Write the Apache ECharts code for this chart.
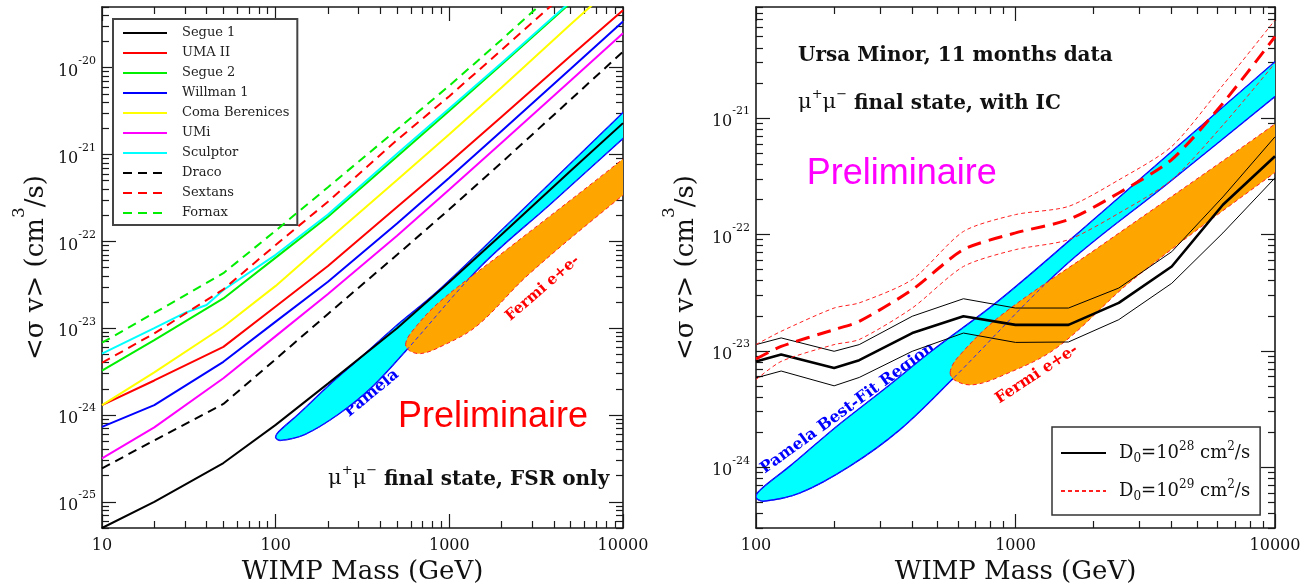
<!DOCTYPE html>
<html><head><meta charset="utf-8">
<script src="https://cdn.jsdelivr.net/npm/echarts@6/dist/echarts.min.js"></script>
<style>html,body{margin:0;padding:0;background:#fff}#c{width:1315px;height:586px}</style>
</head><body><div id="c"></div>
<script>
// ---------------- data: left panel (FSR only) ----------------
const massL = [10, 20, 50, 100, 200, 500, 1000, 2000, 5000, 10000];
const segue1   = [5.0e-26, 1.0e-25, 2.8e-25, 7.7e-25, 2.3e-24, 1.0e-23, 3.4e-23, 1.2e-22, 6.5e-22, 2.3e-21];
const uma2     = [1.3e-24, 2.5e-24, 6.1e-24, 1.78e-23, 5.2e-23, 2.48e-22, 8.1e-22, 2.73e-21, 1.37e-20, 4.6e-20];
const segue2   = [3.24e-24, 7.3e-24, 2.2e-23, 6.5e-23, 1.92e-22, 9.5e-22, 3.19e-21, 1.09e-20, 5.6e-20, 1.9e-19];
const willman1 = [7.3e-25, 1.3e-24, 4.1e-24, 1.19e-23, 3.43e-23, 1.61e-22, 5.4e-22, 1.87e-21, 9.7e-21, 3.4e-20];
const comaBer  = [1.3e-24, 3.1e-24, 1.04e-23, 3.07e-23, 1.04e-22, 5.1e-22, 1.71e-21, 5.9e-21, 3.16e-20, 1.1e-19];
const umi      = [3.17e-25, 7.2e-25, 2.65e-24, 8.1e-24, 2.47e-23, 1.16e-22, 3.95e-22, 1.37e-21, 7.1e-21, 2.49e-20];
const draco    = [2.43e-25, 5.1e-25, 1.34e-24, 4.4e-24, 1.46e-23, 7.0e-23, 2.34e-22, 8.1e-22, 4.3e-21, 1.53e-20];
const sextans  = [4.0e-24, 8.7e-24, 2.8e-23, 9.1e-23, 2.86e-22, 1.47e-21, 4.7e-21, 1.6e-20, 8.2e-20, 3.0e-19];
const fornax   = [6.8e-24, 1.5e-23, 4.3e-23, 1.33e-22, 4.2e-22, 1.94e-21, 6.2e-21, 2.1e-20, 1.1e-19, 3.9e-19];
const massSculptor = [10, 20, 30, 40, 50, 100, 200, 500, 1000, 2000, 5000, 10000];
const sculptor = [5.1e-24, 1.0e-23, 1.5e-23, 1.85e-23, 2.75e-23, 7.0e-23, 2.04e-22, 1.02e-21, 3.39e-21, 1.13e-20, 5.8e-20, 2.0e-19];

// ---------------- data: right panel (Ursa Minor, with IC) ----------------
const massR = [100, 125, 200, 250, 400, 630, 1000, 1600, 2500, 4000, 6300, 10000];
const d28    = [8.1e-24, 9.3e-24, 7.1e-24, 8.3e-24, 1.42e-23, 1.98e-23, 1.67e-23, 1.67e-23, 2.58e-23, 5.3e-23, 1.8e-22, 4.7e-22];
const d28hi  = [1.13e-23, 1.29e-23, 9.9e-24, 1.13e-23, 1.98e-23, 2.8e-23, 2.33e-23, 2.33e-23, 3.46e-23, 7.1e-23, 2.1e-22, 6.9e-22];
const d28lo  = [5.85e-24, 6.7e-24, 5.0e-24, 5.9e-24, 9.9e-24, 1.42e-23, 1.18e-23, 1.19e-23, 1.85e-23, 3.8e-23, 1.03e-22, 3.06e-22];
const d29    = [8.5e-24, 1.09e-23, 1.52e-23, 1.79e-23, 3.35e-23, 7.4e-23, 1.03e-22, 1.34e-22, 2.27e-22, 4.4e-22, 1.34e-21, 5.0e-21];
const d29hi  = [1.13e-23, 1.47e-23, 2.33e-23, 2.58e-23, 4.1e-23, 1.06e-22, 1.48e-22, 1.74e-22, 2.94e-22, 5.7e-22, 1.92e-21, 6.95e-21];
const d29lo  = [5.65e-24, 8.1e-24, 1.13e-23, 1.25e-23, 2.33e-23, 5.3e-23, 7.4e-23, 9.0e-23, 1.52e-22, 2.94e-22, 8.7e-22, 2.96e-21];

// ---------------- regions (outline points: mass, <sigma v>) ----------------
const pamelaMass  = [100, 104, 135, 205, 309, 482, 871, 2116, 10000, 16000, 16000, 10000, 3828, 1524, 567, 359, 230, 148, 107];
const pamelaSigma = [5.5e-25, 6.4e-25, 1.02e-24, 2.25e-24, 4.6e-24, 1.02e-23, 2.75e-23, 1.5e-22, 3.05e-21, 7.5e-21, 3.6e-21, 1.53e-21, 2.7e-22, 5.2e-23, 5.6e-24, 2.1e-24, 1.02e-24, 6.0e-25, 5.1e-25];
const fermiMass   = [560, 600, 871, 2116, 10000, 14000, 14000, 10000, 2840, 1432, 871, 684, 590];
const fermiSigma  = [6.5e-24, 8.8e-24, 1.98e-23, 7.9e-23, 8.9e-22, 1.6e-21, 5.5e-22, 3.4e-22, 4.1e-23, 1.05e-23, 6.0e-24, 5.1e-24, 5.5e-24];

// ---------------- axis ranges and ticks (decade exponents) ----------------
const leftXRange  = [10, 10000];
const leftYRange  = [5e-26, 5e-20];
const rightXRange = [100, 10000];
const rightYRange = [3e-25, 9e-21];
const leftXExp  = [1, 2, 3, 4];
const leftYExp  = [-26, -25, -24, -23, -22, -21, -20];
const rightXExp = [2, 3, 4];
const rightYExp = [-25, -24, -23, -22, -21];
const minorMult = [2, 3, 4, 5, 6, 7, 8, 9];

const SERIF = 'DejaVu Serif';
const SANS = 'Liberation Sans';
const AX = '#1a1a1a';
const lg = Math.log10;

function inRange(vals, r) { return vals.filter(v => v >= lg(r[0]) - 1e-9 && v <= lg(r[1]) + 1e-9); }
function majorTicks(exps, r) { return inRange(exps, r); }
function minorTicks(exps, r) {
  const out = [];
  exps.forEach(e => minorMult.forEach(k => out.push(e + lg(k))));
  return inRange(out, r);
}

const xLabel = vals => ({show: true, customValues: vals, margin: 10, fontFamily: SERIF, fontSize: 16, color: '#111',
  formatter: v => String(Math.round(Math.pow(10, v)))});
const yLabel = vals => ({show: true, customValues: vals, margin: 6,
  formatter: v => '{b|10}{s|' + Math.round(v) + '}',
  rich: {b: {fontFamily: SERIF, fontSize: 16, color: '#111', lineHeight: 24, verticalAlign: 'bottom'},
         s: {fontFamily: SERIF, fontSize: 11, color: '#111', lineHeight: 12, verticalAlign: 'top'}}});
const xName = () => ({name: 'WIMP Mass (GeV)', nameLocation: 'middle', nameGap: 26,
  nameTextStyle: {fontFamily: SERIF, fontSize: 26, color: '#111'}});
const yName = gap => ({name: '{n|<σ v> (cm}{p|3}{n|/s)}', nameLocation: 'middle', nameGap: gap,
  nameTextStyle: {rich: {n: {fontFamily: SERIF, fontSize: 26, color: '#111', lineHeight: 38, verticalAlign: 'bottom'},
                         p: {fontFamily: SERIF, fontSize: 17, color: '#111', lineHeight: 16, verticalAlign: 'top'}}}});

function axisSet(grid, dim, r, majors, minors, label, nameOpt) {
  const base = (lineShow) => ({
    type: 'value', gridIndex: grid, min: lg(r[0]), max: lg(r[1]), scale: true,
    splitLine: {show: false}, silent: true,
    axisLine: {show: lineShow, onZero: false, lineStyle: {color: AX, width: 1.6}}
  });
  const tick = (vals, len) => ({show: true, inside: true, length: len, customValues: vals, lineStyle: {color: AX, width: 1.2}});
  const pos = dim === 'x' ? ['bottom', 'top'] : ['left', 'right'];
  return [
    Object.assign(base(true), {position: pos[0], axisTick: tick(majors, 14), axisLabel: label}, nameOpt),
    Object.assign(base(false), {position: pos[0], axisTick: tick(minors, 7), axisLabel: {show: false}}),
    Object.assign(base(true), {position: pos[1], axisTick: tick(majors, 14), axisLabel: {show: false}}),
    Object.assign(base(false), {position: pos[1], axisTick: tick(minors, 7), axisLabel: {show: false}})
  ];
}

const xAxes = [].concat(
  axisSet(0, 'x', leftXRange, majorTicks(leftXExp, leftXRange), minorTicks(leftXExp, leftXRange), xLabel(majorTicks(leftXExp, leftXRange)), xName()),
  axisSet(1, 'x', rightXRange, majorTicks(rightXExp, rightXRange), minorTicks(rightXExp, rightXRange), xLabel(majorTicks(rightXExp, rightXRange)), xName())
);
const yAxes = [].concat(
  axisSet(0, 'y', leftYRange, majorTicks(leftYExp, leftYRange), minorTicks(leftYExp, leftYRange), yLabel(majorTicks(leftYExp, leftYRange)), yName(53)),
  axisSet(1, 'y', rightYRange, majorTicks(rightYExp, rightYRange), minorTicks(rightYExp, rightYRange), yLabel(majorTicks(rightYExp, rightYRange)), yName(57))
);

// data go through log10 so that the value axes act as logarithmic axes
function pairs(xs, ys) { return xs.map((x, i) => [lg(x), lg(ys[i])]); }

function lineSeries(name, grid, xs, ys, color, width, dash, smooth, z) {
  return {
    type: 'line', name: name, xAxisIndex: grid * 4, yAxisIndex: grid * 4,
    data: pairs(xs, ys), symbol: 'none', showSymbol: false, clip: true, smooth: smooth || false,
    lineStyle: {color: color, width: width, type: dash || 'solid'}, itemStyle: {color: color},
    z: z || 5, animation: false, silent: true
  };
}

function regionSeries(grid, xs, ys, fill, stroke, width, dash, z) {
  const pts = pairs(xs, ys);
  return {
    type: 'custom', xAxisIndex: grid * 4, yAxisIndex: grid * 4, clip: true, silent: true, z: z,
    data: pts, animation: false,
    renderItem: (params, api) => {
      if (params.dataIndex !== 0) return;
      return {type: 'polygon', shape: {points: pts.map(p => api.coord(p)), smooth: 0.35},
        style: {fill: fill, stroke: stroke, lineWidth: width, lineDash: dash}};
    }
  };
}

const DASH = [9, 6];
const series = [
  regionSeries(0, pamelaMass, pamelaSigma, '#00ffff', '#0000ff', 1.4, null, 1),
  regionSeries(0, fermiMass, fermiSigma, '#ffa500', '#ff2020', 1, [4, 3], 2),
  regionSeries(0, pamelaMass, pamelaSigma, 'none', '#2a2aff', 1, [4, 3], 3),
  lineSeries('Segue 1', 0, massL, segue1, '#000000', 2),
  lineSeries('UMA II', 0, massL, uma2, '#ff0000', 2),
  lineSeries('Segue 2', 0, massL, segue2, '#00ee00', 2),
  lineSeries('Willman 1', 0, massL, willman1, '#0000ff', 2),
  lineSeries('Coma Berenices', 0, massL, comaBer, '#ffff00', 2),
  lineSeries('UMi', 0, massL, umi, '#ff00ff', 2),
  lineSeries('Sculptor', 0, massSculptor, sculptor, '#00ffff', 2),
  lineSeries('Draco', 0, massL, draco, '#000000', 2, DASH),
  lineSeries('Sextans', 0, massL, sextans, '#ff0000', 2, DASH),
  lineSeries('Fornax', 0, massL, fornax, '#00ee00', 2, DASH),

  regionSeries(1, pamelaMass, pamelaSigma, '#00ffff', '#0000ff', 1.4, null, 1),
  regionSeries(1, fermiMass, fermiSigma, '#ffa500', '#ff2020', 1, [4, 3], 2),
  regionSeries(1, pamelaMass, pamelaSigma, 'none', '#2a2aff', 1, [4, 3], 3),
  lineSeries('D28', 1, massR, d28hi, '#000000', 1),
  lineSeries('D28', 1, massR, d28lo, '#000000', 1),
  lineSeries('D28', 1, massR, d28, '#000000', 2.6),
  lineSeries('D29', 1, massR, d29hi, '#ff2020', 1, [4, 3], 0.25),
  lineSeries('D29', 1, massR, d29lo, '#ff2020', 1, [4, 3], 0.25),
  lineSeries('D29', 1, massR, d29, '#ff0000', 3, [14, 8], 0.25)
];

const legendText = {
  D28: '{n|D}{b|0}{n|=10}{t|28}{n| cm}{t|2}{n|/s}',
  D29: '{n|D}{b|0}{n|=10}{t|29}{n| cm}{t|2}{n|/s}'
};

const option = {
  animation: false,
  backgroundColor: '#ffffff',
  grid: [
    {left: 102, top: 7, width: 521, height: 521, containLabel: false, outerBoundsMode: 'none'},
    {left: 756, top: 7, width: 519, height: 521, containLabel: false, outerBoundsMode: 'none'}
  ],
  xAxis: xAxes,
  yAxis: yAxes,
  legend: [
    {
      data: ['Segue 1', 'UMA II', 'Segue 2', 'Willman 1', 'Coma Berenices', 'UMi', 'Sculptor', 'Draco', 'Sextans', 'Fornax'],
      orient: 'vertical', left: 113, top: 19, itemWidth: 44, itemHeight: 14, itemGap: 6,
      padding: [7, 8, 5, 9], backgroundColor: '#ffffff', borderColor: '#444', borderWidth: 2, borderRadius: 0,
      selectedMode: false, itemStyle: {opacity: 0},
      textStyle: {fontFamily: SERIF, fontSize: 13, color: '#222', lineHeight: 14, padding: [0, 0, 0, 10]}
    },
    {
      data: ['D28', 'D29'],
      orient: 'vertical', left: 1052, top: 427, itemWidth: 45, itemHeight: 14, itemGap: 14,
      padding: [14, 10, 12, 8], backgroundColor: '#ffffff', borderColor: '#333', borderWidth: 1.5, borderRadius: 0,
      selectedMode: false, itemStyle: {opacity: 0},
      formatter: n => legendText[n],
      textStyle: {padding: [0, 0, 0, 8], rich: {
        n: {fontFamily: SERIF, fontSize: 18, color: '#111', lineHeight: 24, verticalAlign: 'middle'},
        b: {fontFamily: SERIF, fontSize: 12, color: '#111', lineHeight: 11, verticalAlign: 'bottom'},
        t: {fontFamily: SERIF, fontSize: 12, color: '#111', lineHeight: 11, verticalAlign: 'top'}
      }}
    }
  ],
  graphic: [
    {type: 'text', x: 398, y: 417, silent: true, style: {text: 'Preliminaire', fontFamily: SANS, fontSize: 36, fill: '#ff0000', align: 'left', verticalAlign: 'middle'}},
    {type: 'text', x: 328, y: 477, silent: true, style: {
      text: '{m|μ}{p|+}{m|μ}{p|−}{b| final state, FSR only}', align: 'left', verticalAlign: 'middle',
      rich: {m: {fontFamily: SERIF, fontSize: 21, fill: '#111', lineHeight: 25, verticalAlign: 'bottom'},
             p: {fontFamily: SERIF, fontSize: 13, fill: '#111', lineHeight: 13, verticalAlign: 'top'},
             b: {fontFamily: SERIF, fontSize: 20, fontWeight: 'bold', fill: '#111', lineHeight: 25, verticalAlign: 'bottom'}}}},
    {type: 'text', x: 371.7, y: 393.3, rotation: 39.5 * Math.PI / 180, silent: true, style: {text: 'Pamela', fontFamily: SERIF, fontSize: 16, fontWeight: 'bold', fill: '#0000ff', align: 'center', verticalAlign: 'middle'}},
    {type: 'text', x: 542.5, y: 288.3, rotation: 40.8 * Math.PI / 180, silent: true, style: {text: 'Fermi e+e-', fontFamily: SERIF, fontSize: 15, fontWeight: 'bold', fill: '#ff0000', align: 'center', verticalAlign: 'middle'}},

    {type: 'text', x: 798, y: 56, silent: true, style: {text: 'Ursa Minor, 11 months data', fontFamily: SERIF, fontSize: 20, fontWeight: 'bold', fill: '#111', align: 'left', verticalAlign: 'middle'}},
    {type: 'text', x: 798, y: 101, silent: true, style: {
      text: '{m|μ}{p|+}{m|μ}{p|−}{b| final state, with IC}', align: 'left', verticalAlign: 'middle',
      rich: {m: {fontFamily: SERIF, fontSize: 21, fill: '#111', lineHeight: 25, verticalAlign: 'bottom'},
             p: {fontFamily: SERIF, fontSize: 13, fill: '#111', lineHeight: 13, verticalAlign: 'top'},
             b: {fontFamily: SERIF, fontSize: 20, fontWeight: 'bold', fill: '#111', lineHeight: 25, verticalAlign: 'bottom'}}}},
    {type: 'text', x: 806.7, y: 174, silent: true, style: {text: 'Preliminaire', fontFamily: SANS, fontSize: 36, fill: '#ff00ff', align: 'left', verticalAlign: 'middle'}},
    {type: 'text', x: 847.7, y: 408.3, rotation: 36 * Math.PI / 180, silent: true, style: {text: 'Pamela Best-Fit Region', fontFamily: SERIF, fontSize: 16, fontWeight: 'bold', fill: '#0000ff', align: 'center', verticalAlign: 'middle'}},
    {type: 'text', x: 1036.7, y: 374.2, rotation: 33.4 * Math.PI / 180, silent: true, style: {text: 'Fermi e+e-', fontFamily: SERIF, fontSize: 15.5, fontWeight: 'bold', fill: '#ff0000', align: 'center', verticalAlign: 'middle'}}
  ],
  series: series
};

const chart = echarts.init(document.getElementById('c'), null, {renderer: 'canvas'});
chart.setOption(option);
</script>
</body></html>
